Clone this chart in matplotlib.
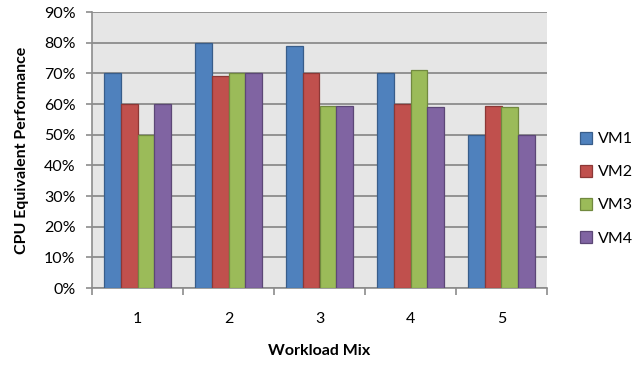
import numpy as np
import matplotlib
matplotlib.use("Agg")
import matplotlib.pyplot as plt
from matplotlib.ticker import FixedLocator, PercentFormatter

plt.rcParams['font.family'] = ['Lato', 'DejaVu Sans']

mixes = ['1', '2', '3', '4', '5']
vm1 = [70, 80, 79, 70, 50]
vm2 = [60, 69, 70, 60, 59.5]
vm3 = [50, 70, 59.5, 71, 59]
vm4 = [60, 70, 59.5, 59, 50]
series = {'VM1': vm1, 'VM2': vm2, 'VM3': vm3, 'VM4': vm4}

fills = ['#4F81BD', '#C0504D', '#9BBB59', '#8064A2']
edges = ['#385D8A', '#8C3836', '#71893F', '#5C4776']

fig = plt.figure(figsize=(6.34, 3.66), dpi=100)
ax = fig.add_axes([92 / 634, 1 - 288 / 366, 455 / 634, 276 / 366])
ax.set_facecolor('#E6E6E6')

x = np.arange(len(mixes))
w = 0.184
for k, (name, vals) in enumerate(series.items()):
    ax.bar(x + (k - 1.5) * w, vals, w, color=fills[k], edgecolor=edges[k],
           linewidth=0.9, label=name, zorder=3)

ax.set_xlim(-0.5, 4.5)
ax.set_ylim(0, 90)
ax.set_yticks(np.arange(0, 91, 10))
ax.yaxis.set_major_formatter(PercentFormatter(decimals=0))
ax.grid(axis='y', color='#8C8C8C', linewidth=1.3, zorder=1)

ax.set_xticks(x)
ax.set_xticklabels(mixes)
ax.xaxis.set_minor_locator(FixedLocator(np.arange(-0.5, 4.6, 1)))
ax.tick_params(axis='x', which='major', length=0, pad=17, labelsize=11.5)
ax.tick_params(axis='x', which='minor', length=5, width=1.2, color='#8C8C8C')
ax.tick_params(axis='y', length=4.3, width=1.2, color='#8C8C8C', labelsize=11.5, pad=7.5)

for side in ['top', 'right']:
    ax.spines[side].set_visible(False)
for side in ['left', 'bottom']:
    ax.spines[side].set_color('#8C8C8C')
    ax.spines[side].set_linewidth(1.2)

ax.set_xlabel('Workload Mix', fontweight='bold', fontsize=11.5, labelpad=13)
ax.set_ylabel('CPU Equivalent Performance', fontweight='bold', fontsize=11.5, labelpad=11)

ax.legend(loc='center left', bbox_to_anchor=(1.04, 0.36), frameon=False,
          fontsize=11.5, handlelength=0.8, handleheight=0.8, handletextpad=0.35,
          labelspacing=1.15)

plt.savefig('out.png', dpi=100)
